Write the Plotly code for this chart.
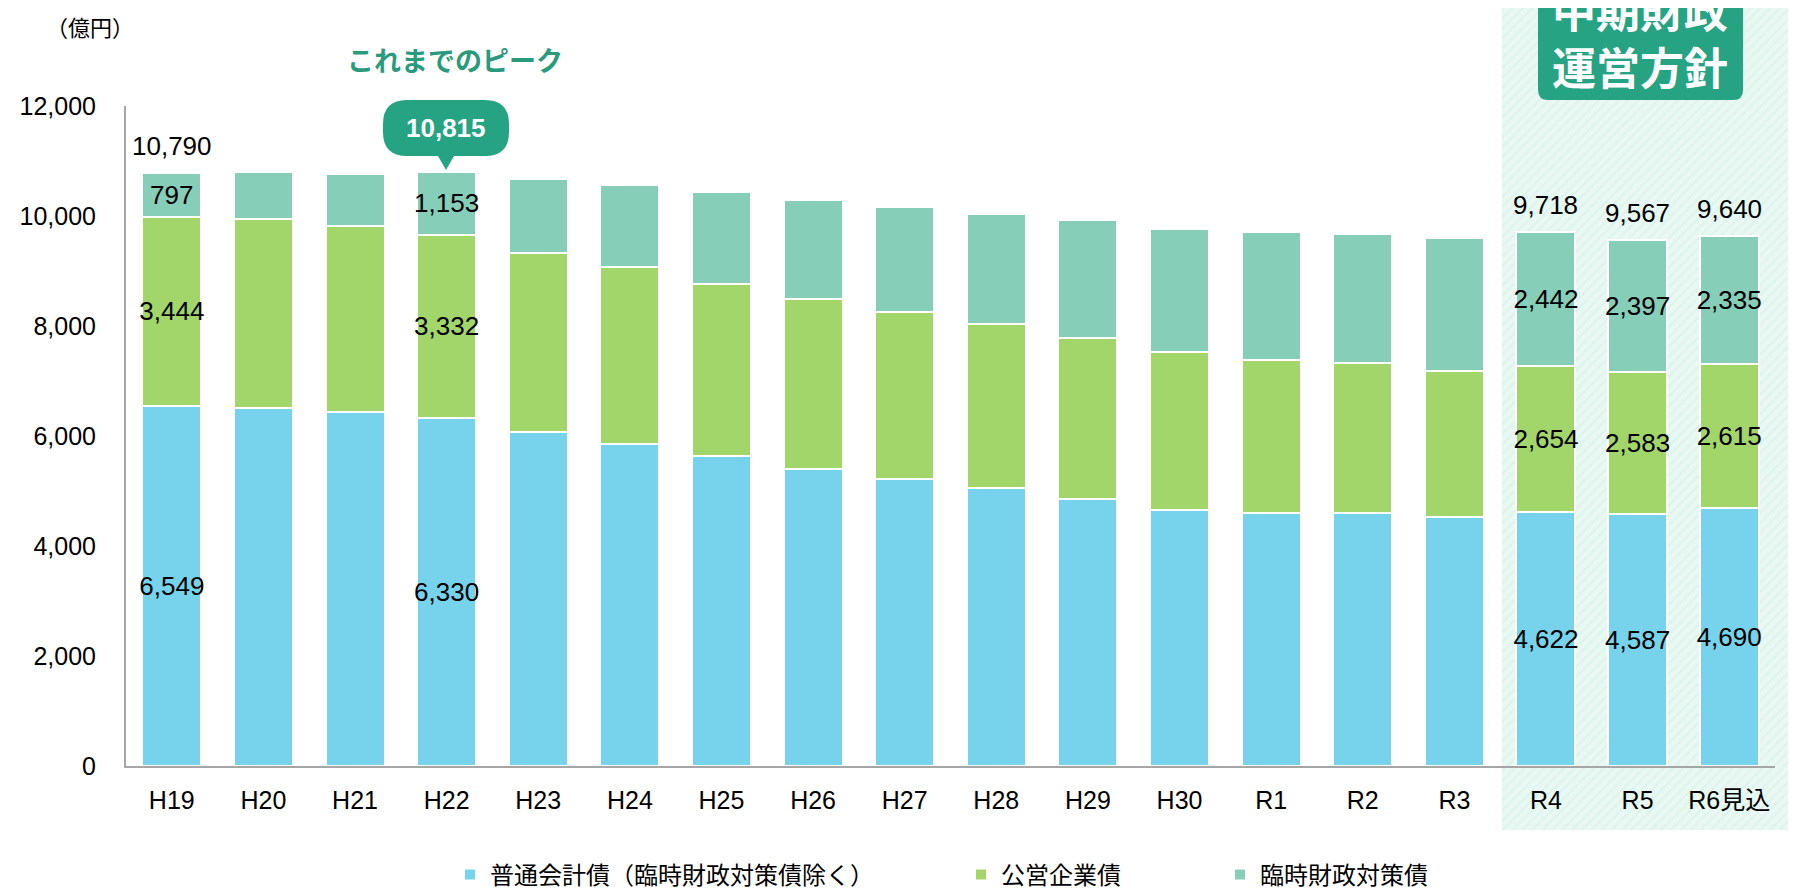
import plotly.graph_objects as go

# 年度
years = ["H19", "H20", "H21", "H22", "H23", "H24", "H25", "H26", "H27",
         "H28", "H29", "H30", "R1", "R2", "R3", "R4", "R5", "R6見込"]

# 億円
general = [6549, 6513, 6440, 6330, 6070, 5858, 5634, 5409, 5215,
           5051, 4851, 4663, 4603, 4603, 4524, 4622, 4587, 4690]
public_ent = [3444, 3438, 3384, 3332, 3262, 3214, 3140, 3092, 3047,
              2995, 2941, 2863, 2789, 2728, 2667, 2654, 2583, 2615]
temp_fin = [797, 849, 946, 1153, 1341, 1498, 1668, 1801, 1902,
            2001, 2141, 2249, 2328, 2353, 2420, 2442, 2397, 2335]

totals = [g + p + t for g, p, t in zip(general, public_ent, temp_fin)]
totals[0] = 10790
totals[3] = 10815

labeled = ["H19", "H22", "R4", "R5", "R6見込"]
total_labeled = ["H19", "R4", "R5", "R6見込"]

names = ["普通会計債（臨時財政対策債除く）", "公営企業債", "臨時財政対策債"]
colors = ["#76d3eb", "#a2d56a", "#86ceb8"]
accent = "#26a383"

# the page body has an 8px margin, so the figure is placed at (8, 8)
OFF = 8
W, H = 1796 - OFF, 892 - OFF
NUM_FONT = "Arial, Liberation Sans, Noto Sans CJK JP, sans-serif"
JP_FONT = "Noto Sans CJK JP, sans-serif"


# page pixel -> paper fraction
def px(x):
    return (x - OFF) / W


def py(y):
    return 1 - (y - OFF) / H


fig = go.Figure()

# hatched background for the mid-term plan period (drawn in its own full-page subplot)
hx0, hx1, hy0, hy1 = 1502, 1800, 0, 830
fig.add_trace(go.Scatter(
    x=[hx0, hx1, hx1, hx0, hx0], y=[hy0, hy0, hy1, hy1, hy0],
    mode="lines", fill="toself", line=dict(width=0),
    fillcolor="#e7f8f2",
    fillpattern=dict(shape="/", fgcolor="#cdeee2", bgcolor="#e9f8f3",
                     size=7, solidity=0.25),
    hoverinfo="skip", showlegend=False, xaxis="x", yaxis="y"))

series = [general, public_ent, temp_fin]
legends = ["legend", "legend2", "legend3"]
for vals, name, col, lg in zip(series, names, colors, legends):
    txt = [f"{v:,}" if yr in labeled else "" for yr, v in zip(years, vals)]
    fig.add_trace(go.Bar(
        x=years, y=vals, name=name, legend=lg,
        marker=dict(color=col, line=dict(color="white", width=2)),
        text=txt, textposition="inside", insidetextanchor="middle",
        textangle=0, constraintext="none",
        textfont=dict(family=NUM_FONT, size=26, color="black"),
        xaxis="x2", yaxis="y2", hoverinfo="x+y+name"))

annotations = []
for yr, tot in zip(years, totals):
    if yr in total_labeled:
        annotations.append(dict(
            x=yr, y=tot, xref="x2", yref="y2", text=f"{tot:,}",
            showarrow=False, yshift=27, xanchor="center", yanchor="middle",
            font=dict(family=NUM_FONT, size=26, color="black")))


def note(x, y, text, size, color, family=JP_FONT):
    return dict(x=px(x), y=py(y), xref="paper", yref="paper", text=text,
                showarrow=False, xanchor="center", yanchor="middle",
                font=dict(family=family, size=size, color=color))


annotations += [
    note(90, 26, "（億円）", 22, "black"),
    note(455, 59, "<b>これまでのピーク</b>", 27, "#2a9a7c"),
    note(446, 128, f"<b>{totals[3]:,}</b>", 26, "white", NUM_FONT),
    note(1640, 37, "<b>中期財政<br>運営方針</b>", 44, "white"),
]


def path_from(points):
    out = []
    for cmd, pts in points:
        coords = " ".join(f"{px(a):.5f},{py(b):.5f}" for a, b in pts)
        out.append(f"{cmd} {coords}")
    return " ".join(out) + " Z"


# callout bubble
x0, x1, y0, y1, r = 383, 509, 100, 156, 24
tx, tip = 446, 170
bubble = path_from([
    ("M", [(x0 + r, y0)]), ("L", [(x1 - r, y0)]),
    ("Q", [(x1, y0), (x1, y0 + r)]), ("L", [(x1, y1 - r)]),
    ("Q", [(x1, y1), (x1 - r, y1)]),
    ("L", [(tx + 8, y1)]), ("L", [(tx, tip)]), ("L", [(tx - 8, y1)]),
    ("L", [(x0 + r, y1)]), ("Q", [(x0, y1), (x0, y1 - r)]),
    ("L", [(x0, y0 + r)]), ("Q", [(x0, y0), (x0 + r, y0)]),
])

# plan box (top cut by the page edge)
bx0, bx1, by0, by1, br = 1538, 1743, -10, 100, 10
planbox = path_from([
    ("M", [(bx0, by0)]), ("L", [(bx1, by0)]), ("L", [(bx1, by1 - br)]),
    ("Q", [(bx1, by1), (bx1 - br, by1)]), ("L", [(bx0 + br, by1)]),
    ("Q", [(bx0, by1), (bx0, by1 - br)]),
])

shapes = [
    dict(type="path", path=bubble, xref="paper", yref="paper",
         fillcolor=accent, line=dict(width=0), layer="above"),
    dict(type="path", path=planbox, xref="paper", yref="paper",
         fillcolor=accent, line=dict(width=0), layer="above"),
]

legend_base = dict(orientation="h", yanchor="middle", y=py(875), xanchor="left",
                   font=dict(family=JP_FONT, size=24, color="black"),
                   bgcolor="rgba(0,0,0,0)", itemwidth=30, traceorder="normal")

fig.update_layout(
    width=W, height=H,
    margin=dict(l=0, r=0, t=0, b=0, autoexpand=False),
    paper_bgcolor="white", plot_bgcolor="rgba(0,0,0,0)",
    barmode="stack", bargap=0.356,
    showlegend=True,
    legend=dict(legend_base, x=px(450)),
    legend2=dict(legend_base, x=px(961)),
    legend3=dict(legend_base, x=px(1220)),
    xaxis=dict(domain=[0, 1], range=[OFF, OFF + W], visible=False, fixedrange=True),
    yaxis=dict(domain=[0, 1], range=[OFF + H, OFF], visible=False, fixedrange=True),
    xaxis2=dict(domain=[px(126), px(1775)], anchor="y2", type="category",
                showline=True, linecolor="#a6a6a6", linewidth=2,
                ticks="", showgrid=False, ticklabelstandoff=11,
                tickfont=dict(family=NUM_FONT, size=25, color="black")),
    yaxis2=dict(domain=[py(766), py(106.4)], anchor="x2", range=[0, 12000],
                tickvals=[0, 2000, 4000, 6000, 8000, 10000, 12000],
                tickformat=",", showline=True, linecolor="#a6a6a6", linewidth=2,
                ticks="", showgrid=False, zeroline=False, ticklabelstandoff=23,
                tickfont=dict(family=NUM_FONT, size=25, color="black")),
    annotations=annotations,
    shapes=shapes,
)

fig.write_html("out.html")
